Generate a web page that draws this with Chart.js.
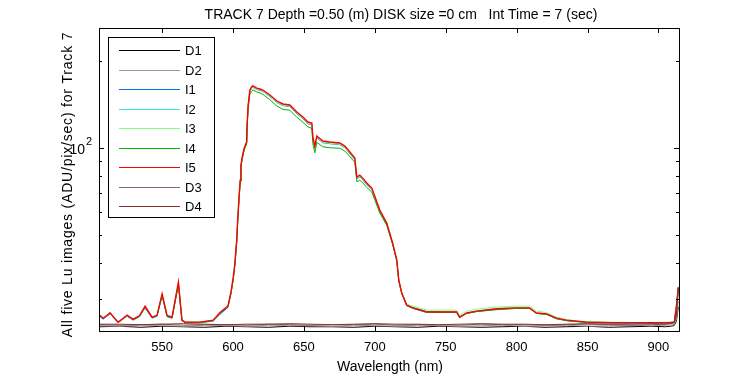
<!DOCTYPE html>
<html>
<head>
<meta charset="utf-8">
<script src="https://cdn.jsdelivr.net/npm/chart.js@4/dist/chart.umd.min.js"></script>
<style>
  html, body { margin: 0; padding: 0; background: #fff; }
  #wrap { width: 750px; height: 375px; }
</style>
</head>
<body>
<div id="wrap"><canvas id="lu_chart"></canvas></div>
<script>
// wavelength grid (nm) for the five Lu images
const wavelength = [
  506.3, 508.4, 513.3, 519.0, 525.3, 529.5, 534.0, 538.0, 542.9, 546.4,
  550.0, 553.5, 557.0, 561.5, 564.0, 566.2, 576.7, 586.0, 590.8, 596.4,
  598.6, 600.2, 601.4, 602.6, 603.3, 604.2, 605.1, 605.6, 606.5, 607.9,
  609.6, 610.0, 610.7, 611.9, 613.1, 614.0, 616.7, 619.0, 621.1, 626.0,
  631.0, 635.2, 640.1, 645.0, 649.3, 652.8, 655.6, 656.3, 657.7, 659.1,
  663.3, 668.3, 675.3, 678.9, 682.4, 685.9, 687.3, 689.4, 691.5, 694.3,
  697.9, 703.5, 708.4, 712.6, 715.5, 716.9, 719.0, 722.5, 726.7, 736.6,
  757.7, 759.8, 764.8, 771.8, 785.9, 799.9, 809.1, 814.0, 821.1, 828.1,
  835.2, 849.3, 867.6, 891.5, 907.7, 911.2, 912.7, 914.0
];

const I1 = [
  26.1, 25.6, 26.7, 24.9, 26.2, 25.4, 26.1, 28.0, 25.8, 26.2,
  30.9, 26.1, 25.8, 33.9, 25.3, 24.9, 24.9, 25.2, 26.6, 28.1,
  31.4, 35.4, 39.9, 47.6, 55.9, 66.5, 76.9, 86.6, 92.4, 99.2,
  104.1, 121.0, 139.8, 157.2, 161.0, 162.2, 159.4, 158.1, 156.9, 150.6,
  143.5, 140.2, 139.0, 131.4, 126.3, 121.3, 120.3, 107.6, 100.3, 108.5,
  104.3, 103.5, 102.7, 100.3, 95.6, 91.1, 78.3, 79.5, 77.6, 74.7,
  71.9, 60.5, 54.6, 46.6, 40.8, 34.8, 31.4, 28.5, 27.9, 27.0,
  27.0, 25.9, 26.8, 27.2, 27.7, 27.9, 27.9, 26.8, 26.6, 25.7,
  25.3, 24.9, 24.8, 24.8, 24.8, 24.9, 28.3, 32.7
];
const I2 = [
  26.3, 25.7, 26.8, 25.0, 26.3, 25.5, 26.2, 28.3, 25.9, 26.3,
  31.1, 26.3, 25.9, 34.1, 25.4, 25.0, 25.0, 25.3, 26.9, 28.3,
  31.6, 35.6, 40.1, 47.8, 56.1, 66.8, 77.2, 87.0, 92.8, 99.6,
  104.5, 121.5, 140.4, 158.0, 161.8, 163.0, 160.3, 159.2, 157.8, 151.6,
  144.6, 141.2, 140.3, 132.5, 127.4, 122.4, 121.4, 108.5, 101.0, 109.4,
  105.2, 104.4, 103.6, 101.1, 96.4, 91.9, 79.0, 80.2, 78.3, 75.3,
  72.4, 60.8, 54.8, 46.8, 40.9, 34.9, 31.5, 28.6, 28.0, 27.1,
  27.1, 26.0, 26.9, 27.3, 27.8, 28.0, 28.0, 26.9, 26.7, 25.8,
  25.4, 25.0, 24.9, 24.9, 24.9, 25.0, 28.5, 32.9
];
const I3 = [
  26.3, 25.8, 26.8, 25.0, 26.3, 25.6, 26.3, 28.2, 26.0, 26.4,
  31.0, 26.3, 26.0, 34.0, 25.4, 25.0, 25.0, 25.4, 26.9, 28.3,
  31.7, 35.6, 40.0, 47.7, 56.0, 66.7, 77.0, 86.8, 92.6, 99.5,
  104.3, 121.2, 140.0, 157.6, 161.4, 162.6, 159.7, 158.5, 157.2, 151.0,
  143.9, 140.5, 139.4, 131.8, 126.7, 121.7, 120.7, 108.0, 100.6, 108.9,
  104.6, 103.8, 103.0, 100.6, 95.9, 91.4, 78.7, 79.8, 78.0, 75.0,
  72.2, 60.8, 55.0, 47.0, 41.2, 35.1, 31.7, 28.9, 28.4, 27.5,
  27.5, 26.4, 27.3, 27.7, 28.2, 28.4, 28.4, 27.3, 27.0, 26.0,
  25.5, 25.1, 25.0, 24.9, 25.0, 25.1, 28.4, 32.8
];
const I4 = [
  26.2, 25.7, 27.0, 24.9, 26.5, 25.5, 26.2, 28.1, 25.9, 26.3,
  30.8, 26.2, 25.9, 33.6, 25.3, 24.9, 24.9, 25.3, 26.8, 28.2,
  31.5, 35.2, 39.6, 47.2, 55.5, 66.0, 76.3, 85.9, 91.6, 98.4,
  103.2, 119.6, 137.5, 153.6, 156.8, 158.9, 156.3, 155.0, 153.2, 146.9,
  139.6, 136.0, 135.1, 127.8, 122.8, 118.3, 116.9, 103.5, 96.2, 104.6,
  101.0, 100.2, 99.8, 97.6, 93.4, 89.3, 76.5, 77.4, 75.8, 73.1,
  70.4, 59.6, 54.0, 46.3, 40.6, 34.7, 31.4, 28.6, 28.1, 27.2,
  27.1, 26.1, 26.8, 27.2, 27.6, 27.9, 27.9, 26.8, 26.6, 25.7,
  25.3, 25.0, 24.9, 24.9, 24.9, 25.0, 28.2, 32.5
];
const I5 = [
  26.4, 25.8, 26.9, 25.0, 26.4, 25.6, 26.3, 28.4, 26.0, 26.4,
  31.3, 26.4, 26.0, 34.4, 25.4, 25.0, 25.0, 25.4, 27.0, 28.4,
  31.8, 35.8, 40.3, 48.0, 56.4, 67.1, 77.5, 87.3, 93.1, 100.0,
  104.9, 122.0, 141.0, 158.7, 162.6, 164.0, 161.0, 160.0, 158.7, 152.5,
  145.4, 142.0, 140.9, 133.2, 128.0, 123.0, 122.0, 109.0, 101.6, 110.0,
  105.7, 104.9, 104.1, 101.6, 96.9, 92.4, 79.4, 80.6, 78.7, 75.7,
  72.7, 61.0, 55.0, 46.9, 41.0, 34.9, 31.5, 28.6, 28.0, 27.1,
  27.1, 26.0, 26.9, 27.3, 27.8, 28.0, 28.0, 26.9, 26.7, 25.8,
  25.4, 25.0, 24.9, 24.9, 24.9, 25.0, 28.6, 33.0
];

// dark frames on a coarser grid
const darkWavelength = [
  506, 520, 535, 550, 565, 580, 595, 610, 625, 640,
  655, 670, 685, 700, 715, 730, 745, 760, 775, 790,
  805, 820, 835, 850, 865, 880, 895, 905, 911, 912.7, 914
];
const D1 = [
  24.1, 24.2, 24.0, 24.2, 24.1, 24.0, 24.2, 24.1, 24.0, 24.2,
  24.1, 24.1, 24.0, 24.2, 24.1, 24.0, 24.2, 24.1, 24.0, 24.1,
  24.2, 24.0, 24.1, 24.2, 24.0, 24.1, 24.2, 24.1, 24.3, 25.2, 28.2
];
const D2 = [
  24.3, 24.2, 24.4, 24.3, 24.2, 24.4, 24.3, 24.2, 24.4, 24.3,
  24.3, 24.2, 24.4, 24.3, 24.2, 24.4, 24.3, 24.2, 24.3, 24.4,
  24.2, 24.3, 24.4, 24.2, 24.3, 24.4, 24.3, 24.4, 24.5, 25.6, 29.5
];
const D3 = [
  24.5, 24.4, 24.5, 24.6, 24.4, 24.5, 24.5, 24.4, 24.6, 24.5,
  24.4, 24.5, 24.5, 24.6, 24.4, 24.5, 24.5, 24.4, 24.6, 24.5,
  24.5, 24.4, 24.5, 24.6, 24.5, 24.4, 24.5, 24.6, 24.8, 26.0, 32.0
];
const D4 = [
  24.6, 24.6, 24.5, 24.6, 24.7, 24.6, 24.5, 24.6, 24.6, 24.7,
  24.6, 24.5, 24.6, 24.7, 24.6, 24.6, 24.5, 24.6, 24.7, 24.6,
  24.6, 24.5, 24.6, 24.7, 24.6, 24.6, 24.7, 24.6, 24.9, 26.5, 33.0
];

const seriesLabels = ['D1', 'D2', 'I1', 'I2', 'I3', 'I4', 'I5', 'D3', 'D4'];
const seriesColors = ['#000000', '#9a9a9a', '#0a6cf0', '#33e6e6', '#80ff80',
  '#00b400', '#ff0000', '#8c6464', '#8b3030'];

const xTicks = [550, 600, 650, 700, 750, 800, 850, 900];
const yTicks = [30, 40, 50, 60, 70, 80, 90, 100, 200];
const yMajor = [100];

const titleText = 'TRACK 7 Depth =0.50 (m) DISK size =0 cm   Int Time = 7 (sec)';
const xTitle = 'Wavelength (nm)';
const yTitle = 'All five Lu images (ADU/pix/sec) for Track 7';

const FONT = '"Liberation Sans", Arial, sans-serif';

function pts(xs, ys) {
  return xs.map((x, i) => ({ x: x, y: ys[i] }));
}

const seriesData = [
  pts(darkWavelength, D1), pts(darkWavelength, D2),
  pts(wavelength, I1), pts(wavelength, I2), pts(wavelength, I3),
  pts(wavelength, I4), pts(wavelength, I5),
  pts(darkWavelength, D3), pts(darkWavelength, D4),
];
// legend order = dataset index; `order` puts D4/D3/I5 on top when drawn
const drawOrder = [8, 7, 6, 5, 4, 3, 2, 1, 0];

const datasets = seriesLabels.map((lab, i) => ({
  label: lab,
  data: seriesData[i],
  borderColor: seriesColors[i],
  borderWidth: lab === 'I5' ? 1.4 : 1,
  order: drawOrder[i],
  pointRadius: 0,
  tension: 0,
  fill: false,
}));

// frame, inward ticks, boxed legend and titles
const framePlugin = {
  id: 'frame',
  afterDatasetsDraw(chart) {
    const ctx = chart.ctx;
    const a = chart.chartArea;
    const xs = chart.scales.x;
    const ys = chart.scales.y;
    ctx.save();
    ctx.strokeStyle = '#000';
    ctx.lineWidth = 1;
    ctx.beginPath();
    xTicks.forEach((v) => {
      const px = Math.round(xs.getPixelForValue(v)) + 0.5;
      ctx.moveTo(px, a.bottom); ctx.lineTo(px, a.bottom - 5);
      ctx.moveTo(px, a.top); ctx.lineTo(px, a.top + 5);
    });
    yTicks.forEach((v) => {
      const py = Math.round(ys.getPixelForValue(v)) + 0.5;
      const len = yMajor.includes(v) ? 5 : 3;
      ctx.moveTo(a.left, py); ctx.lineTo(a.left + len, py);
      ctx.moveTo(a.right, py); ctx.lineTo(a.right - len, py);
    });
    ctx.stroke();
    ctx.strokeRect(Math.round(a.left) + 0.5, Math.round(a.top) + 0.5,
      Math.round(a.right - a.left), Math.round(a.bottom - a.top));

    // legend box
    const lx = 108.5, ly = 37.5, lw = 106, lh = 180;
    ctx.fillStyle = '#fff';
    ctx.fillRect(lx, ly, lw, lh);
    ctx.strokeStyle = '#000';
    ctx.strokeRect(lx, ly, lw, lh);
    ctx.font = '13px ' + FONT;
    ctx.textBaseline = 'middle';
    ctx.textAlign = 'left';
    seriesLabels.forEach((lab, i) => {
      const ry = Math.round(50 + i * 19.5) + 0.5;
      ctx.strokeStyle = seriesColors[i];
      ctx.beginPath();
      ctx.moveTo(119, ry);
      ctx.lineTo(180, ry);
      ctx.stroke();
      ctx.fillStyle = '#000';
      ctx.fillText(lab, 185, ry + 1);
    });

    // 10^2 label on the y axis
    yMajor.forEach((v) => {
      const py = ys.getPixelForValue(v);
      ctx.textAlign = 'right';
      ctx.textBaseline = 'middle';
      ctx.font = '14px ' + FONT;
      ctx.fillText('10', 85, py + 2);
      ctx.textAlign = 'left';
      ctx.font = '11px ' + FONT;
      ctx.fillText('2', 86, py - 6);
    });

    // titles
    ctx.fillStyle = '#000';
    ctx.font = '14px ' + FONT;
    ctx.textAlign = 'center';
    ctx.textBaseline = 'alphabetic';
    ctx.fillText(titleText, 401, 19);
    ctx.fillText(xTitle, (a.left + a.right) / 2 + 1, 371);
    ctx.translate(72, (a.top + a.bottom) / 2 + 5);
    ctx.rotate(-Math.PI / 2);
    ctx.letterSpacing = '0.8px';
    ctx.fillText(yTitle, 0, 0);
    ctx.restore();
  },
};

const ctx = document.getElementById('lu_chart').getContext('2d');
const luChart = new Chart(ctx, {
  type: 'line',
  data: { datasets: datasets },
  options: {
    responsive: true,
    maintainAspectRatio: false,
    animation: false,
    events: [],
    layout: { padding: { top: 28, right: 71, left: 0, bottom: 0 } },
    plugins: {
      legend: { display: false },
      title: { display: false },
      tooltip: { enabled: false },
    },
    scales: {
      x: {
        type: 'linear',
        min: 505.5,
        max: 914.5,
        afterFit(s) { s.height = 44; },
        afterBuildTicks(s) { s.ticks = xTicks.map((v) => ({ value: v })); },
        grid: { display: false, drawTicks: false },
        border: { display: false },
        ticks: {
          color: '#000',
          font: { family: FONT, size: 13 },
          padding: 9,
          maxRotation: 0,
          autoSkip: false,
        },
      },
      y: {
        type: 'logarithmic',
        min: 23.3,
        max: 260,
        afterFit(s) { s.width = 99; },
        afterBuildTicks(s) { s.ticks = yTicks.map((v) => ({ value: v })); },
        grid: { display: false, drawTicks: false },
        border: { display: false },
        ticks: {
          display: false,
        },
      },
    },
  },
  plugins: [framePlugin],
});
</script>
</body>
</html>
